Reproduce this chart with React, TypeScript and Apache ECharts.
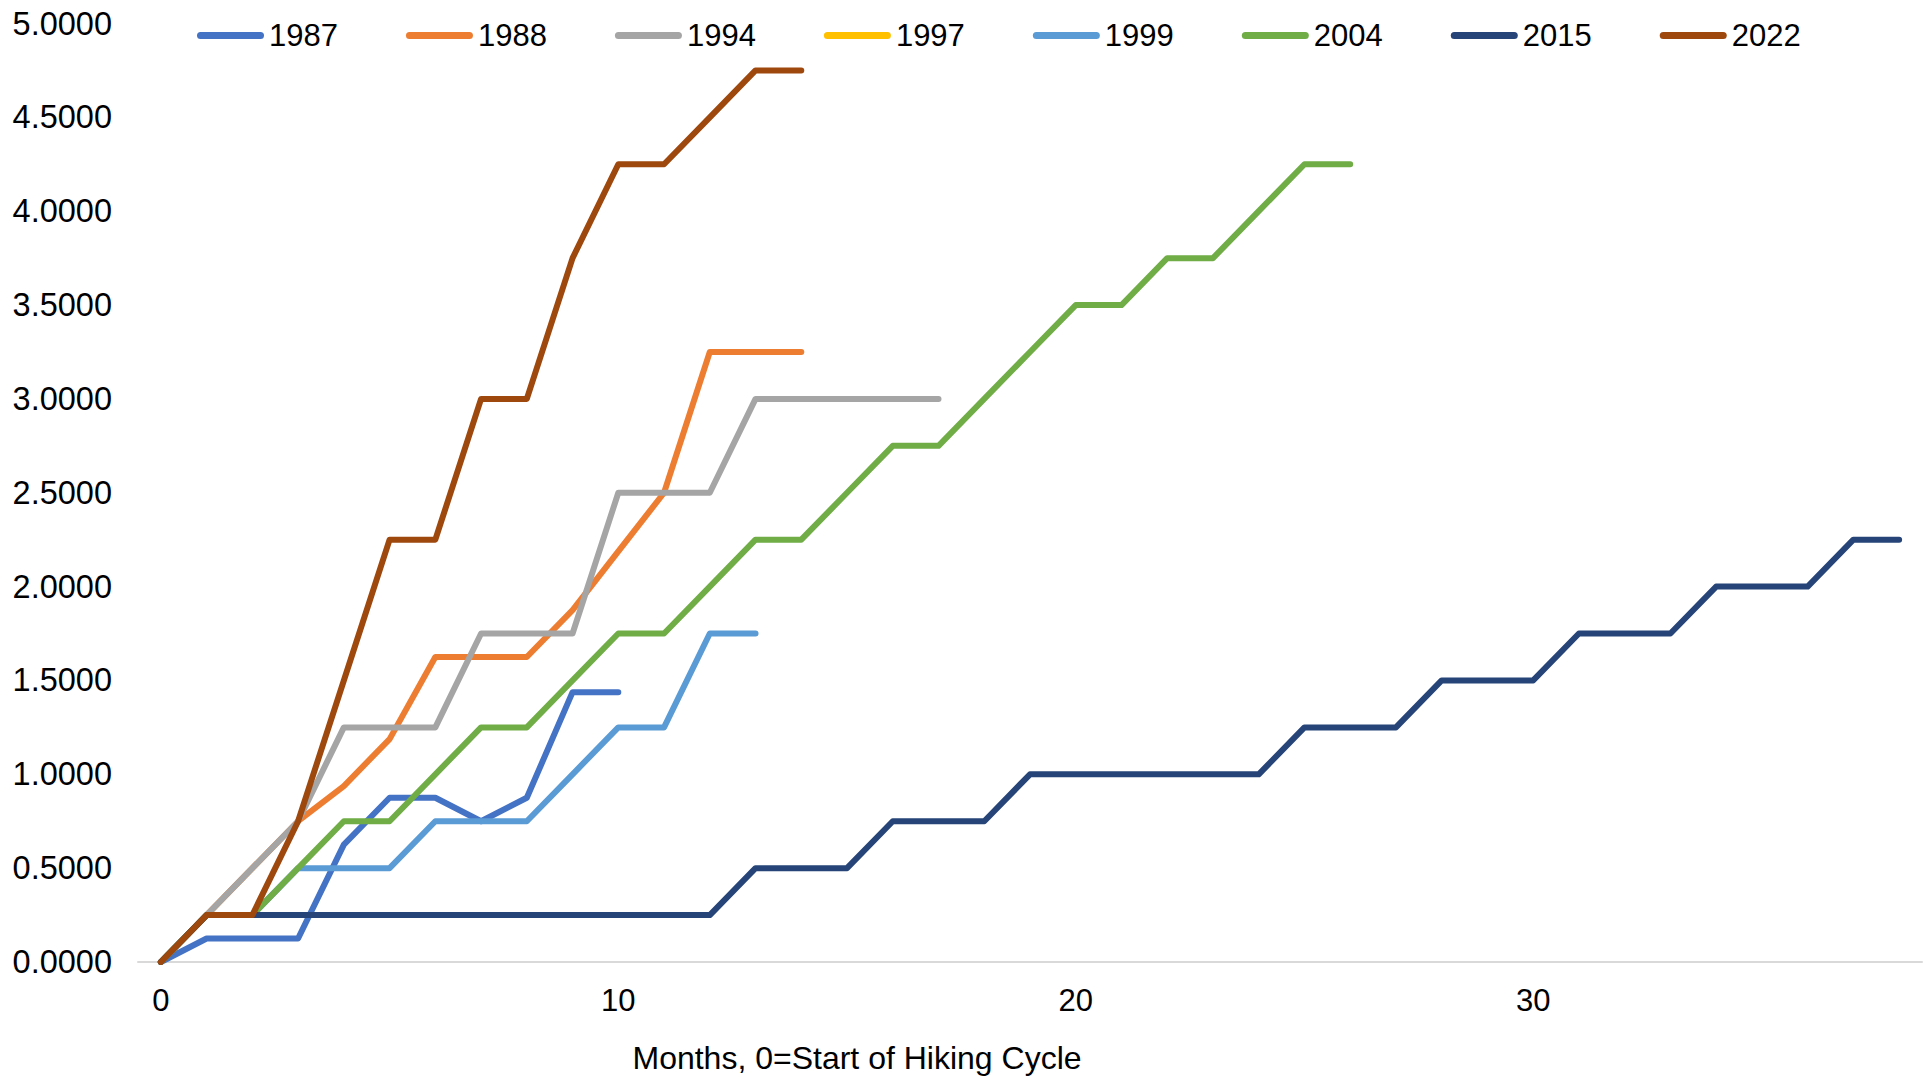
import React, { useEffect, useRef } from "react";
import * as echarts from "echarts";

const months: string[] = Array.from({ length: 39 }, (_, i) => String(i));

const seriesNames = ["1987", "1988", "1994", "1997", "1999", "2004", "2015", "2022"];
const seriesColors = ["#4472C4", "#ED7D31", "#A5A5A5", "#FFC000", "#5B9BD5", "#70AD47", "#264478", "#9E480E"];

const s1987 = [0, 0.125, 0.125, 0.125, 0.625, 0.875, 0.875, 0.75, 0.875, 1.4375, 1.4375];
const s1988 = [0, 0.25, 0.5, 0.75, 0.9375, 1.1875, 1.625, 1.625, 1.625, 1.875, 2.1875, 2.5, 3.25, 3.25, 3.25];
const s1994 = [0, 0.25, 0.5, 0.75, 1.25, 1.25, 1.25, 1.75, 1.75, 1.75, 2.5, 2.5, 2.5, 3, 3, 3, 3, 3];
const s1997 = [0, 0.25, 0.25, 0.25, 0.25, 0.25, 0.25, 0.25];
const s1999 = [0, 0.25, 0.25, 0.5, 0.5, 0.5, 0.75, 0.75, 0.75, 1, 1.25, 1.25, 1.75, 1.75];
const s2004 = [0, 0.25, 0.25, 0.5, 0.75, 0.75, 1, 1.25, 1.25, 1.5, 1.75, 1.75, 2, 2.25, 2.25, 2.5, 2.75, 2.75, 3, 3.25, 3.5, 3.5, 3.75, 3.75, 4, 4.25, 4.25];
const s2015 = [
  0,
  0.25, 0.25, 0.25, 0.25, 0.25, 0.25, 0.25, 0.25, 0.25, 0.25, 0.25, 0.25,
  0.5, 0.5, 0.5,
  0.75, 0.75, 0.75,
  1, 1, 1, 1, 1, 1,
  1.25, 1.25, 1.25,
  1.5, 1.5, 1.5,
  1.75, 1.75, 1.75,
  2, 2, 2,
  2.25, 2.25,
];
const s2022 = [0, 0.25, 0.25, 0.75, 1.5, 2.25, 2.25, 3, 3, 3.75, 4.25, 4.25, 4.5, 4.75, 4.75];

const seriesValues = [s1987, s1988, s1994, s1997, s1999, s2004, s2015, s2022];

const xAxisTitle = "Months, 0=Start of Hiking Cycle";

const FONT = "'Liberation Sans', Arial, Helvetica, sans-serif";
const capsule = "path://M3.5,0 H63.5 A3.5,3.5 0 0 1 63.5,7 H3.5 A3.5,3.5 0 0 1 3.5,0 Z";

export default function App() {
  const ref = useRef<HTMLDivElement>(null);

  useEffect(() => {
    if (!ref.current) return;
    const chart = echarts.init(ref.current, undefined, { renderer: "svg" });
    const option: any = {
      animation: false,
      backgroundColor: "#ffffff",
      textStyle: { fontFamily: FONT },
      grid: { left: 138, right: 3, top: 23.5, bottom: 117, containLabel: false },
      legend: {
        left: 197,
        top: 20,
        padding: 0,
        itemWidth: 67,
        itemHeight: 7,
        itemGap: 68,
        icon: capsule,
        selectedMode: false,
        textStyle: { fontSize: 31, color: "#000000", fontFamily: FONT },
        data: seriesNames.map((n, i) => ({
          name: n,
          icon: capsule,
          itemStyle: { color: seriesColors[i], borderWidth: 0 },
        })),
      },
      xAxis: {
        type: "category",
        data: months,
        boundaryGap: true,
        axisLine: { show: true, lineStyle: { color: "#D9D9D9", width: 2 } },
        axisTick: { show: false },
        splitLine: { show: false },
        axisLabel: {
          interval: 9,
          fontSize: 31,
          color: "#000000",
          fontFamily: FONT,
          margin: 23,
        },
      },
      yAxis: {
        type: "value",
        min: 0,
        max: 5,
        interval: 0.5,
        axisLine: { show: false },
        axisTick: { show: false },
        splitLine: { show: false },
        axisLabel: {
          fontSize: 32.5,
          color: "#000000",
          fontFamily: FONT,
          margin: 26,
          formatter: (v: number) => v.toFixed(4),
        },
      },
      graphic: [
        {
          type: "text",
          x: 857,
          y: 1058,
          style: {
            text: xAxisTitle,
            fontSize: 32,
            fontFamily: FONT,
            fill: "#000000",
            align: "center",
            verticalAlign: "middle",
            textAlign: "center",
            textVerticalAlign: "middle",
          },
        },
      ],
      series: seriesNames.map((n, i) => ({
        name: n,
        type: "line",
        data: seriesValues[i],
        symbol: "none",
        showSymbol: false,
        smooth: false,
        color: seriesColors[i],
        itemStyle: { color: seriesColors[i] },
        lineStyle: { color: seriesColors[i], width: 6, cap: "round", join: "round" },
        emphasis: { disabled: true },
        z: 2 + i,
      })),
    };
    chart.setOption(option);
    return () => {
      chart.dispose();
    };
  }, []);

  return (
    <div
      ref={ref}
      style={{ position: "fixed", left: 0, top: 0, width: 1925, height: 1079, background: "#fff" }}
    />
  );
}
